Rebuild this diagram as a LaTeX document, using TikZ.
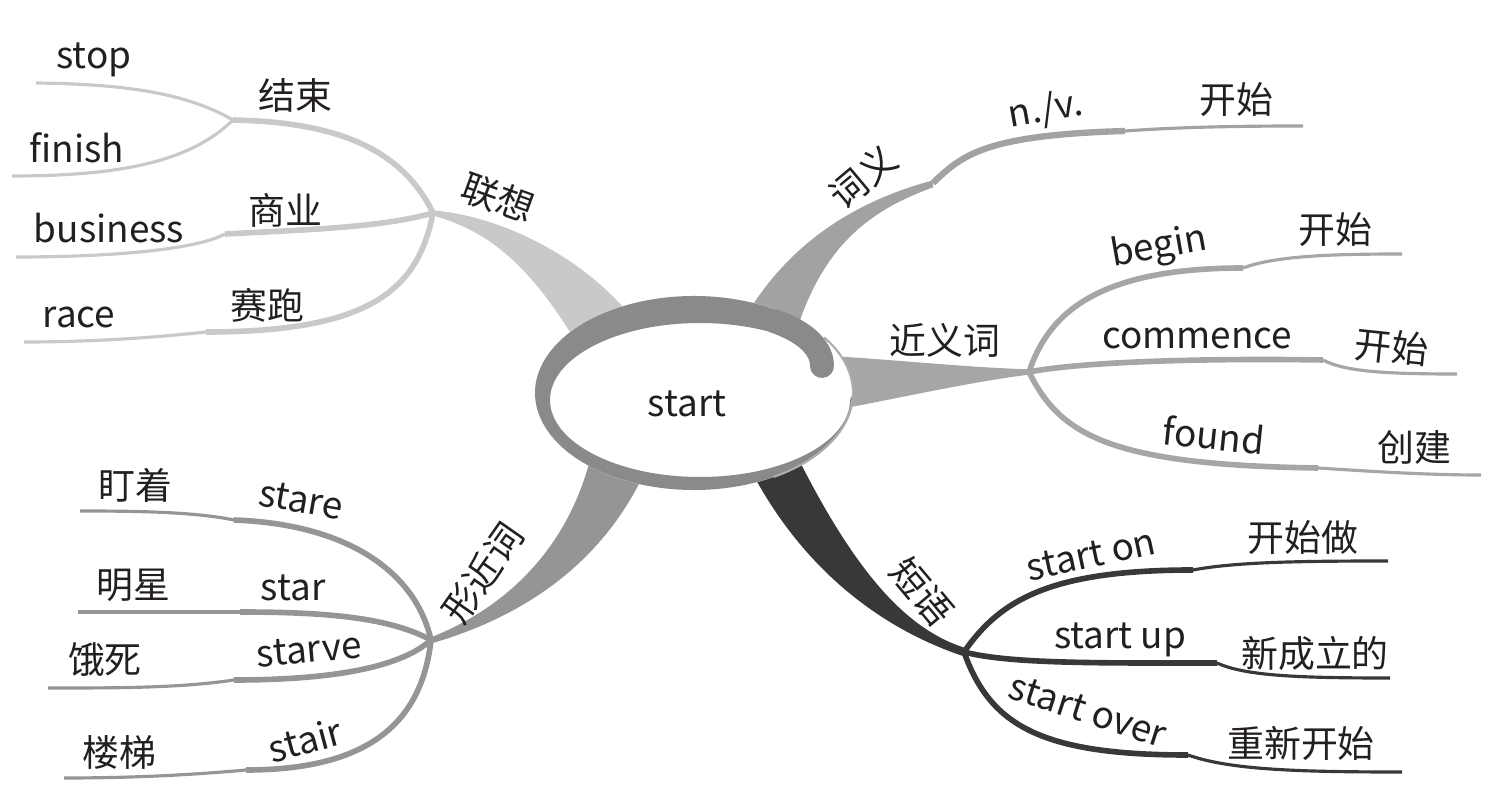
\documentclass[tikz,border=0pt]{standalone}
\usepackage{fontspec}
\setmainfont{Noto Sans CJK SC}
\definecolor{ink}{HTML}{231F20}
\definecolor{lxgray}{HTML}{C9C9C9}
\definecolor{cygray}{HTML}{A2A2A2}
\definecolor{jygray}{HTML}{A6A6A6}
\definecolor{xjgray}{HTML}{959595}
\definecolor{dydark}{HTML}{3A3738}
\definecolor{ringgray}{HTML}{8A8A8A}

\begin{document}
\begin{tikzpicture}[x=0.02cm, y=-0.02cm,
  lbl/.style={inner sep=0pt, text=ink, font=\fontsize{21}{25}\selectfont},
  twig/.style={line width=3.2pt},
  leaf/.style={line width=1.8pt}]

\useasboundingbox (0,0) rectangle (1495,810);

% hubs
\coordinate (lianxiang) at (433,213);
\coordinate (ciyi) at (933,183);
\coordinate (jinyici) at (1029,372);
\coordinate (xingjinci) at (431,640);
\coordinate (duanyu) at (964,652);

% kinks and ends
\coordinate (k-jieshu) at (233,120);
\coordinate (e-stop) at (36,83);
\coordinate (e-finish) at (12,176);
\coordinate (k-shangye) at (225,234);
\coordinate (e-business) at (16,257);
\coordinate (k-saipao) at (206,332);
\coordinate (e-race) at (24,342);

\coordinate (k-nv) at (1125,131);
\coordinate (e-nv) at (1303,126);

\coordinate (k-begin) at (1243,268);
\coordinate (e-begin) at (1402,254);
\coordinate (k-commence) at (1323,360);
\coordinate (e-commence) at (1457,374);
\coordinate (k-found) at (1318,468);
\coordinate (e-found) at (1481,475);

\coordinate (k-stare) at (234,520);
\coordinate (e-stare) at (80,511);
\coordinate (k-star) at (240,612);
\coordinate (e-star) at (78,612);
\coordinate (k-starve) at (234,680);
\coordinate (e-starve) at (48,688);
\coordinate (k-stair) at (246,770);
\coordinate (e-stair) at (64,778);

\coordinate (k-on) at (1193,570);
\coordinate (e-on) at (1388,561);
\coordinate (k-up) at (1217,663);
\coordinate (e-up) at (1390,678);
\coordinate (k-over) at (1188,755);
\coordinate (e-over) at (1402,772);

% main branches
\fill[lxgray] ([yshift=1.5pt]lianxiang) .. controls (500,216) and (580,255) .. (630,315)
  -- (575,340) .. controls (535,275) and (495,232) .. ([yshift=-1.5pt]lianxiang) -- cycle;
\fill[cygray] (752,306) .. controls (785,255) and (840,205) .. ([yshift=1.5pt]ciyi)
  -- ([yshift=-2.5pt]ciyi) .. controls (870,210) and (825,245) .. (798,326) -- cycle;
\fill[jygray] ([yshift=1.5pt]jinyici) .. controls (960,367) and (900,360) .. (830,356)
  -- (835,410) .. controls (900,398) and (970,382) .. ([yshift=-1.5pt]jinyici) -- cycle;
\fill[xjgray] ([yshift=1.5pt]xingjinci) .. controls (500,610) and (565,555) .. (590,460)
  -- (640,482) .. controls (600,560) and (530,615) .. ([yshift=-2pt]xingjinci) -- cycle;
\fill[dydark] (755,478) .. controls (800,560) and (870,625) .. ([yshift=-2.5pt]duanyu)
  -- ([yshift=2.5pt]duanyu) .. controls (910,630) and (860,580) .. (800,462) -- cycle;

% 联想
\draw[twig, lxgray] (lianxiang) .. controls (400,145) and (330,122) .. (k-jieshu);
\draw[leaf, lxgray] (k-jieshu) .. controls (185,92) and (120,84) .. (e-stop);
\draw[leaf, lxgray] (k-jieshu) .. controls (190,162) and (120,176) .. (e-finish);
\draw[twig, lxgray] (lianxiang) .. controls (380,228) and (300,230) .. (k-shangye);
\draw[leaf, lxgray] (k-shangye) .. controls (195,250) and (110,257) .. (e-business);
\draw[twig, lxgray] (lianxiang) .. controls (418,290) and (370,332) .. (k-saipao);
\draw[leaf, lxgray] (k-saipao) .. controls (150,338) and (90,342) .. (e-race);

% 词义
\draw[line width=3.6pt, cygray] (ciyi) .. controls (962,155) and (985,135) .. (k-nv);
\draw[leaf, cygray] (k-nv) .. controls (1180,127) and (1240,126) .. (e-nv);

% 近义词
\draw[twig, jygray] (jinyici) .. controls (1048,315) and (1095,268) .. (k-begin);
\draw[leaf, jygray] (k-begin) .. controls (1275,256) and (1330,254) .. (e-begin);
\draw[twig, jygray] (jinyici) .. controls (1080,362) and (1200,358) .. (k-commence);
\draw[leaf, jygray] (k-commence) .. controls (1345,372) and (1390,374) .. (e-commence);
\draw[twig, jygray] (jinyici) .. controls (1060,435) and (1110,465) .. (k-found);
\draw[leaf, jygray] (k-found) .. controls (1380,472) and (1430,475) .. (e-found);

% 形近词
\draw[twig, xjgray] (xingjinci) .. controls (415,570) and (345,524) .. (k-stare);
\draw[leaf, xjgray] (k-stare) .. controls (195,512) and (140,511) .. (e-stare);
\draw[twig, xjgray] (xingjinci) .. controls (390,618) and (330,612) .. (k-star);
\draw[leaf, xjgray] (k-star) -- (e-star);
\draw[twig, xjgray] (xingjinci) .. controls (400,668) and (330,680) .. (k-starve);
\draw[leaf, xjgray] (k-starve) .. controls (180,688) and (120,688) .. (e-starve);
\draw[twig, xjgray] (xingjinci) .. controls (422,720) and (372,770) .. (k-stair);
\draw[leaf, xjgray] (k-stair) .. controls (180,776) and (120,778) .. (e-stair);

% 短语
\draw[twig, dydark] (duanyu) .. controls (1000,600) and (1050,570) .. (k-on);
\draw[leaf, dydark] (k-on) .. controls (1235,562) and (1300,561) .. (e-on);
\draw[twig, dydark] (duanyu) .. controls (1010,664) and (1100,663) .. (k-up);
\draw[leaf, dydark] (k-up) .. controls (1245,676) and (1300,678) .. (e-up);
\draw[twig, dydark] (duanyu) .. controls (990,725) and (1040,755) .. (k-over);
\draw[leaf, dydark] (k-over) .. controls (1230,770) and (1300,772) .. (e-over);

% centre
\fill[white] (694,393) ellipse [x radius=159, y radius=97];
\fill[ringgray] ([shift={(694,393)}]-60:159 and 97) arc[start angle=-60, end angle=-360, x radius=159, y radius=97]
  -- ([shift={(700,400)}]0:150 and 77) arc[start angle=-360, end angle=-60, x radius=150, y radius=77] -- cycle;
\draw[ringgray!70, line width=1.2pt] ([shift={(694,393)}]-35:159 and 97) arc[start angle=-35, end angle=60, x radius=159, y radius=97];
\draw[ringgray, line width=13.6pt, line cap=round] (774,321) .. controls (800,330) and (822,345) .. (822,366);
\node[lbl] (t-start) at (687,404) {start};

% labels
\node[lbl, rotate=-20] (t-lianxiang) at (498,198) {联想};
\node[lbl] (t-jieshu) at (295,95) {结束};
\node[lbl] (t-stop) at (94,60) {stop};
\node[lbl] (t-finish) at (77,148) {finish};
\node[lbl] (t-shangye) at (285,210) {商业};
\node[lbl] (t-business) at (109,228) {business};
\node[lbl] (t-saipao) at (267,305) {赛跑};
\node[lbl] (t-race) at (79,317) {race};

\node[lbl, rotate=40] (t-ciyi) at (863,177) {词义};
\node[lbl, rotate=10] (t-nv) at (1046,110) {n./v.};
\node[lbl] (t-kaishi1) at (1236,100) {开始};

\node[lbl] (t-jinyici) at (945,340) {近义词};
\node[lbl, rotate=10] (t-begin) at (1159,248) {begin};
\node[lbl] (t-kaishi2) at (1335,230) {开始};
\node[lbl] (t-commence) at (1197,338) {commence};
\node[lbl, rotate=-6] (t-kaishi3) at (1392,347) {开始};
\node[lbl, rotate=-6] (t-found) at (1214,435) {found};
\node[lbl] (t-chuangjian) at (1414,447) {创建};

\node[lbl, rotate=55] (t-xingjinci) at (483,573) {形近词};
\node[lbl, rotate=-10] (t-stare) at (301,500) {stare};
\node[lbl] (t-dingzhe) at (135,485) {盯着};
\node[lbl] (t-star) at (293,588) {star};
\node[lbl] (t-mingxing) at (133,585) {明星};
\node[lbl, rotate=5] (t-starve) at (309,650) {starve};
\node[lbl] (t-esi) at (105,660) {饿死};
\node[lbl, rotate=15] (t-stair) at (305,740) {stair};
\node[lbl] (t-louti) at (119,752) {楼梯};

\node[lbl, rotate=-50] (t-duanyu) at (922,592) {短语};
\node[lbl, rotate=12] (t-on) at (1091,555) {start on};
\node[lbl] (t-kaishizuo) at (1303,538) {开始做};
\node[lbl] (t-up) at (1120,640) {start up};
\node[lbl] (t-xinchengli) at (1315,653) {新成立的};
\node[lbl, rotate=-18] (t-over) at (1088,711) {start over};
\node[lbl] (t-chongxin) at (1301,743) {重新开始};

\end{tikzpicture}
\end{document}
